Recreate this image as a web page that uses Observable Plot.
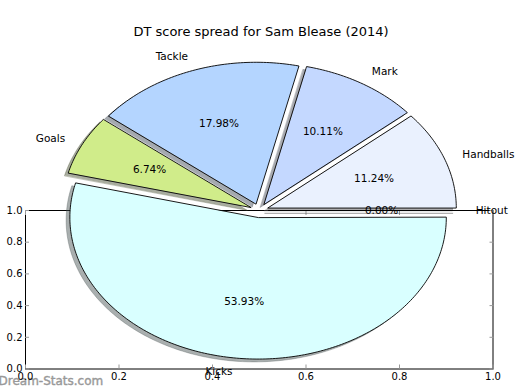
<!DOCTYPE html>
<html><head><meta charset="utf-8">
<script src="https://cdn.jsdelivr.net/npm/d3@7"></script>
<script src="https://cdn.jsdelivr.net/npm/@observablehq/plot@0.6"></script>
<style>html,body{margin:0;padding:0;background:#fff}svg{display:block}</style>
</head><body><div id="chart"></div>
<script>
// ---- data ----
const chartTitle = "DT score spread for Sam Blease (2014)";
const categories = ["Handballs", "Mark", "Tackle", "Goals", "Kicks", "Hitout"];
const dtPoints   = [10, 9, 16, 6, 48, 0];
const sliceColors = ["#eaf1fe", "#c4d8ff", "#b4d5ff", "#d0ec8a", "#d9ffff", "#ffffff"];
const explode    = [0.05, 0.05, 0.05, 0.05, 0.05, 0.05];
const tickValues = [0, 0.2, 0.4, 0.6, 0.8, 1.0];
const watermark  = "Dream-Stats.com";

// ---- pie geometry (in axes units) ----
const pieCenter = [0.5, 1.0];
const pieRadius = [0.4026, 0.893];
const shadowShift = [-0.02, -0.02];

const total = d3.sum(dtPoints);
let acc = 0;
const slices = categories.map((name, i) => {
  const t1 = acc / total * 2 * Math.PI; acc += dtPoints[i];
  const t2 = acc / total * 2 * Math.PI;
  const tm = (t1 + t2) / 2;
  return {name, value: dtPoints[i], pct: (100 * dtPoints[i] / total).toFixed(2) + "%",
    t1, t2, tm, ox: explode[i] * Math.cos(tm), oy: explode[i] * Math.sin(tm), color: sliceColors[i]};
});
const toX = u => pieCenter[0] + u * pieRadius[0];
const toY = v => pieCenter[1] + v * pieRadius[1];
function wedge(s, dx = 0, dy = 0) {
  const cx = s.ox + dx, cy = s.oy + dy;
  const pts = [{x: toX(cx), y: toY(cy)}];
  const n = Math.max(2, Math.ceil((s.t2 - s.t1) / (Math.PI / 180)));
  for (let k = 0; k <= n; k++) {
    const t = s.t1 + (s.t2 - s.t1) * k / n;
    pts.push({x: toX(cx + Math.cos(t)), y: toY(cy + Math.sin(t))});
  }
  return pts;
}
const shade = c => { const r = d3.rgb(c); return d3.rgb(r.r * 0.3, r.g * 0.3, r.b * 0.3).formatHex(); };

const labels = slices.map(s => {
  const c = Math.cos(s.tm), sn = Math.sin(s.tm);
  const xt = s.ox + 1.1 * c;
  return {...s, lx: toX(xt), ly: toY(s.oy + 1.1 * sn), left: xt > 0,
          px: toX(s.ox + 0.6 * c), py: toY(s.oy + 0.6 * sn)};
});

const font = "DejaVu Sans";
const marks = [
  Plot.frame({stroke: "#000", strokeWidth: 1}),
  Plot.text([watermark], {frameAnchor: "bottom-left", textAnchor: "start", dx: -27, dy: 16,
    fill: "#999", stroke: "#999", strokeWidth: 0.4, fontSize: 12, lineAnchor: "bottom"}),
  Plot.axisX(tickValues, {anchor: "bottom", tickSize: -4, tickPadding: 8, tickFormat: d3.format(".1f"),
    stroke: "#999", fill: "#000", fontSize: 10, label: null}),
  Plot.axisX(tickValues, {anchor: "top", tickSize: -4, tickFormat: () => "", stroke: "#999", label: null}),
  Plot.axisY(tickValues, {anchor: "left", tickSize: -4, tickPadding: 7, tickFormat: d3.format(".1f"),
    stroke: "#999", fill: "#000", fontSize: 10, label: null}),
  Plot.axisY(tickValues, {anchor: "right", tickSize: -4, tickFormat: () => "", stroke: "#999", label: null}),
  // shadows
  ...slices.map(s => Plot.line(wedge(s, shadowShift[0], shadowShift[1]), {x: "x", y: "y", curve: "linear-closed",
    fill: shade(s.color), fillOpacity: 0.45, stroke: shade(s.color), strokeOpacity: 0.3, strokeWidth: 1})),
  // wedges
  ...slices.map(s => Plot.line(wedge(s), {x: "x", y: "y", curve: "linear-closed",
    fill: s.color, stroke: "#000", strokeWidth: 0.9})),
  Plot.text(labels.filter(d => d.left), {x: "lx", y: "ly", text: "name", textAnchor: "start", fontSize: 10.5, fill: "#000"}),
  Plot.text(labels.filter(d => !d.left), {x: "lx", y: "ly", text: "name", textAnchor: "end", fontSize: 10.5, fill: "#000"}),
  Plot.text(labels, {x: "px", y: "py", text: "pct", textAnchor: "middle", fontSize: 10.5, fill: "#000"}),
  Plot.text([chartTitle], {frameAnchor: "top", dy: -184, dx: 1.75, fontSize: 13, fill: "#000"})
];

const chart = Plot.plot({
  width: 520, height: 390,
  marginLeft: 25, marginRight: 27.5, marginTop: 210, marginBottom: 21.5,
  style: {fontFamily: font, background: "#fff", overflow: "visible"},
  x: {domain: [0, 1], axis: null},
  y: {domain: [0, 1], axis: null},
  marks
});
document.getElementById("chart").appendChild(chart);
</script>
</body></html>
